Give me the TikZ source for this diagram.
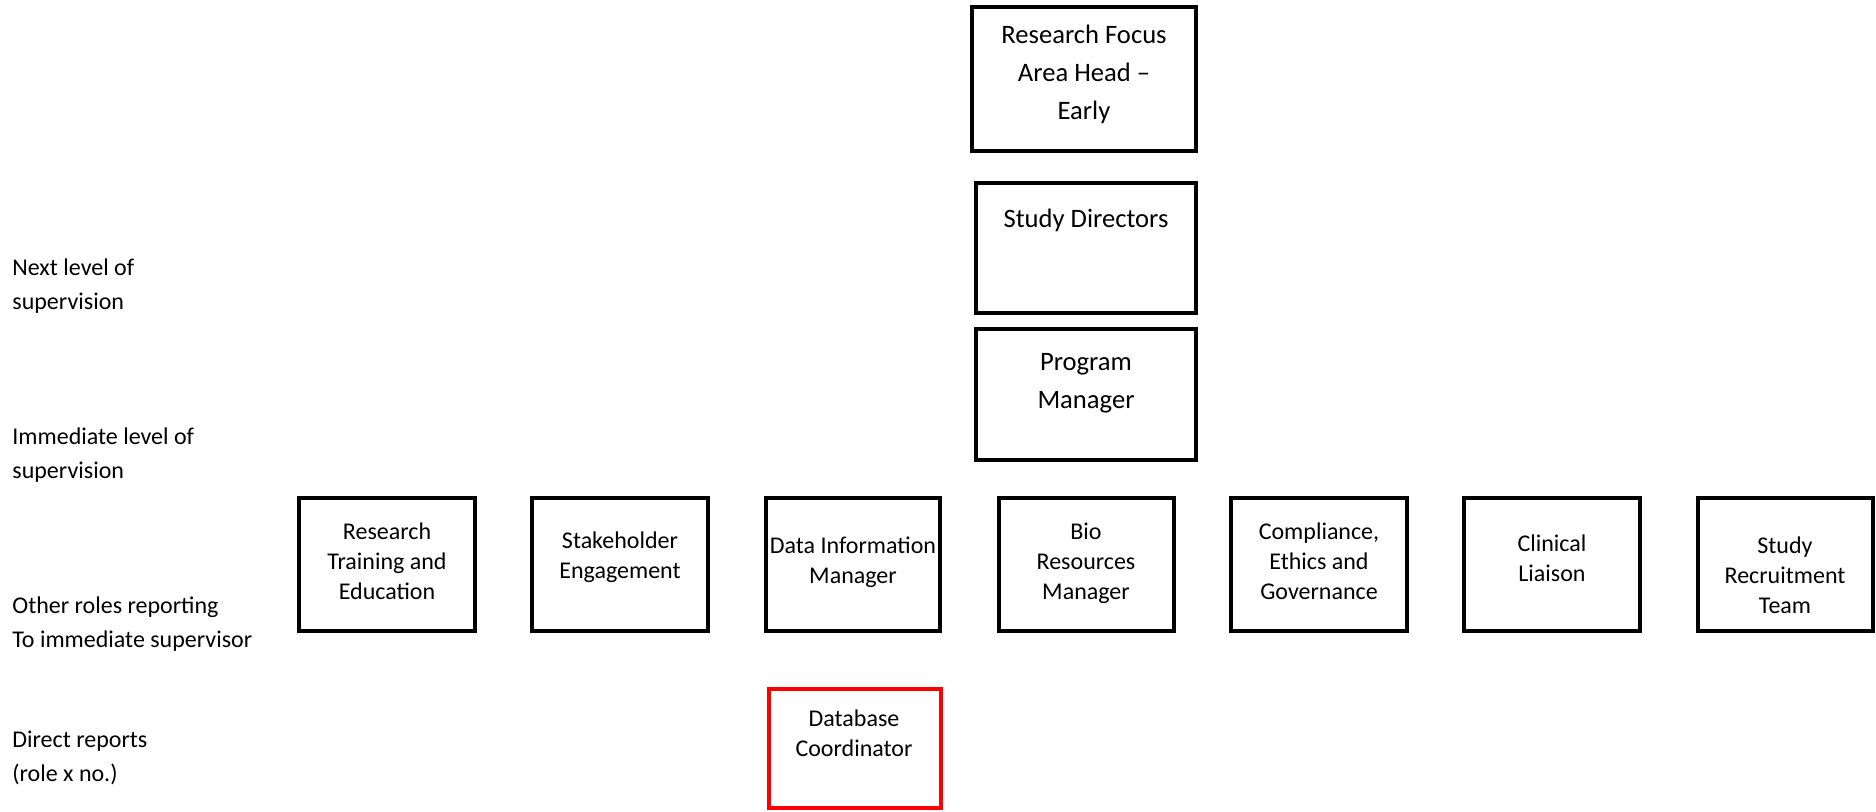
\documentclass[tikz,border=0pt]{standalone}
\usepackage{fontspec}
\setmainfont{Carlito}
\definecolor{boxred}{RGB}{255,0,0}
\tikzset{
  box/.style={draw=black, line width=1.6pt, rectangle, inner sep=0pt},
  redbox/.style={draw=boxred, line width=1.6pt, rectangle, inner sep=0pt},
  toptext/.style={align=center, font=\fontsize{13.3}{19}\selectfont, inner sep=0pt},
  rowtext/.style={align=center, font=\fontsize{12}{15}\selectfont, inner sep=0pt},
  sidetext/.style={align=left, anchor=west, font=\fontsize{12}{17}\selectfont, inner sep=0pt},
}
\begin{document}
\begin{tikzpicture}[x=0.5pt,y=-0.5pt]
\useasboundingbox (0,0) rectangle (1876,811);
% top boxes
\draw[box] (972,7) rectangle (1196,151);
\node[toptext] (rfah) at (1084,74) {Research Focus\\Area Head –\\Early};
\draw[box] (976,183) rectangle (1196,313);
\node[toptext] (sd) at (1086,220) {Study Directors};
\draw[box] (976,329) rectangle (1196,460);
\node[toptext] (pm) at (1086,383) {Program\\Manager};
% row boxes
\draw[box] (299,498) rectangle (475,631);
\node[rowtext] (r1) at (387,561) {Research\\Training and\\Education};
\draw[box] (532,498) rectangle (708,631);
\node[rowtext] (r2) at (620,557) {Stakeholder\\Engagement};
\draw[box] (766,498) rectangle (940,631);
\node[rowtext] (r3) at (853,562) {Data Information\\Manager};
\draw[box] (999,498) rectangle (1174,631);
\node[rowtext] (r4) at (1086,563) {Bio\\Resources\\Manager};
\draw[box] (1231,498) rectangle (1407,631);
\node[rowtext] (r5) at (1319,561) {Compliance,\\Ethics and\\Governance};
\draw[box] (1464,498) rectangle (1640,631);
\node[rowtext] (r6) at (1552,558) {Clinical\\Liaison};
\draw[box] (1698,498) rectangle (1873,631);
\node[rowtext] (r7) at (1785,575) {Study\\Recruitment\\Team};
% direct report
\draw[redbox] (769,689) rectangle (941,808);
\node[rowtext] (dc) at (854,733) {Database\\Coordinator};
% side labels
\node[sidetext] (l1) at (12,286) {Next level of\\supervision};
\node[sidetext] (l2) at (12,455) {Immediate level of\\supervision};
\node[sidetext] (l3) at (12,624) {Other roles reporting\\To immediate supervisor};
\node[sidetext] (l4) at (12,758) {Direct reports\\(role x no.)};
\end{tikzpicture}
\end{document}
